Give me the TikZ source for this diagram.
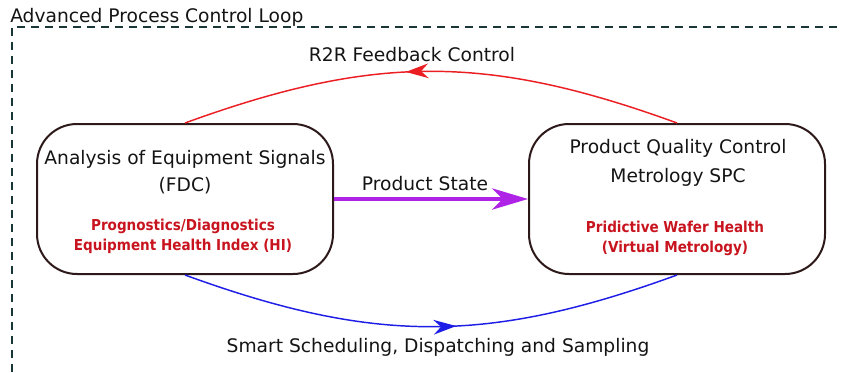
\documentclass[tikz,border=0pt]{standalone}
\usepackage{fontspec}
\setmainfont{DejaVu Sans}
\newfontfamily\condfont{DejaVu Sans Condensed}
\usepackage{tikz}
\usetikzlibrary{arrows.meta,positioning,decorations.markings,calc}
\usepackage{xcolor}

\begin{document}
\begin{tikzpicture}[x=0.75pt,y=-0.75pt,
  procbox/.style={draw=boxline,line width=1.5pt,rounded corners=30pt,minimum width=222pt,minimum height=112.5pt},
  maintext/.style={anchor=base,text=inkblack,font=\fontsize{14}{16}\selectfont,inner sep=0pt},
  healthtext/.style={anchor=base,text=healthred,font=\condfont\bfseries\fontsize{11.3}{13}\selectfont,inner sep=0pt},
  midarrow/.style={postaction={decorate},decoration={markings,mark=at position 0.55 with {\arrow{Stealth[length=17pt,width=11pt]}}}}]
% Define colors
\definecolor{boxline}{RGB}{45,25,25}
\definecolor{feedred}{RGB}{235,30,35}
\definecolor{healthred}{RGB}{200,20,30}
\definecolor{statepurple}{RGB}{175,35,230}
\definecolor{schedblue}{RGB}{30,30,230}
\definecolor{loopframe}{RGB}{25,55,55}
\definecolor{inkblack}{RGB}{20,20,20}

\useasboundingbox (0,0) rectangle (841,372);

% Loop frame
\draw[loopframe,line width=1pt,dash pattern=on 6pt off 4.5pt] (12,372) -- (12,27) -- (841,27);
\node[maintext,anchor=base west] (looptitle) at (10,22) {Advanced Process Control Loop};

% Boxes
\node[procbox] (lbox) at (185,199) {};
\node[procbox] (rbox) at (677,199) {};

% Equipment side
\node[maintext] (fdcname) at (185,164) {Analysis of Equipment Signals};
\node[maintext] (fdcabbr) at (185,191) {(FDC)};
\node[healthtext] (fdchealth) at (183,230) {Prognostics/Diagnostics};
\node[healthtext] (fdcindex) at (183,250) {Equipment Health Index (HI)};

% Product side
\node[maintext] (pqcname) at (678,153) {Product Quality Control};
\node[maintext] (pqcspc) at (678,182) {Metrology SPC};
\node[healthtext] (pqchealth) at (675,232) {Pridictive Wafer Health};
\node[healthtext] (pqcvm) at (675,252) {(Virtual Metrology)};

% Product state
\draw[statepurple,line width=3pt,-{Stealth[length=27pt,width=16pt,inset=8pt]}] (lbox.east) -- (rbox.west);
\node[maintext] (statelabel) at (425,190) {Product State};

% R2R feedback
\draw[feedred,line width=1.1pt,midarrow] (rbox.north) to[out=160,in=20,looseness=1.05] (lbox.north);
\node[maintext] (feedlabel) at (412,61) {R2R Feedback Control};

% Scheduling
\draw[schedblue,line width=1.1pt,midarrow] (lbox.south) to[out=-20,in=-160,looseness=1.05] (rbox.south);
\node[maintext] (schedlabel) at (438,352) {Smart Scheduling, Dispatching and Sampling};
\end{tikzpicture}
\end{document}
